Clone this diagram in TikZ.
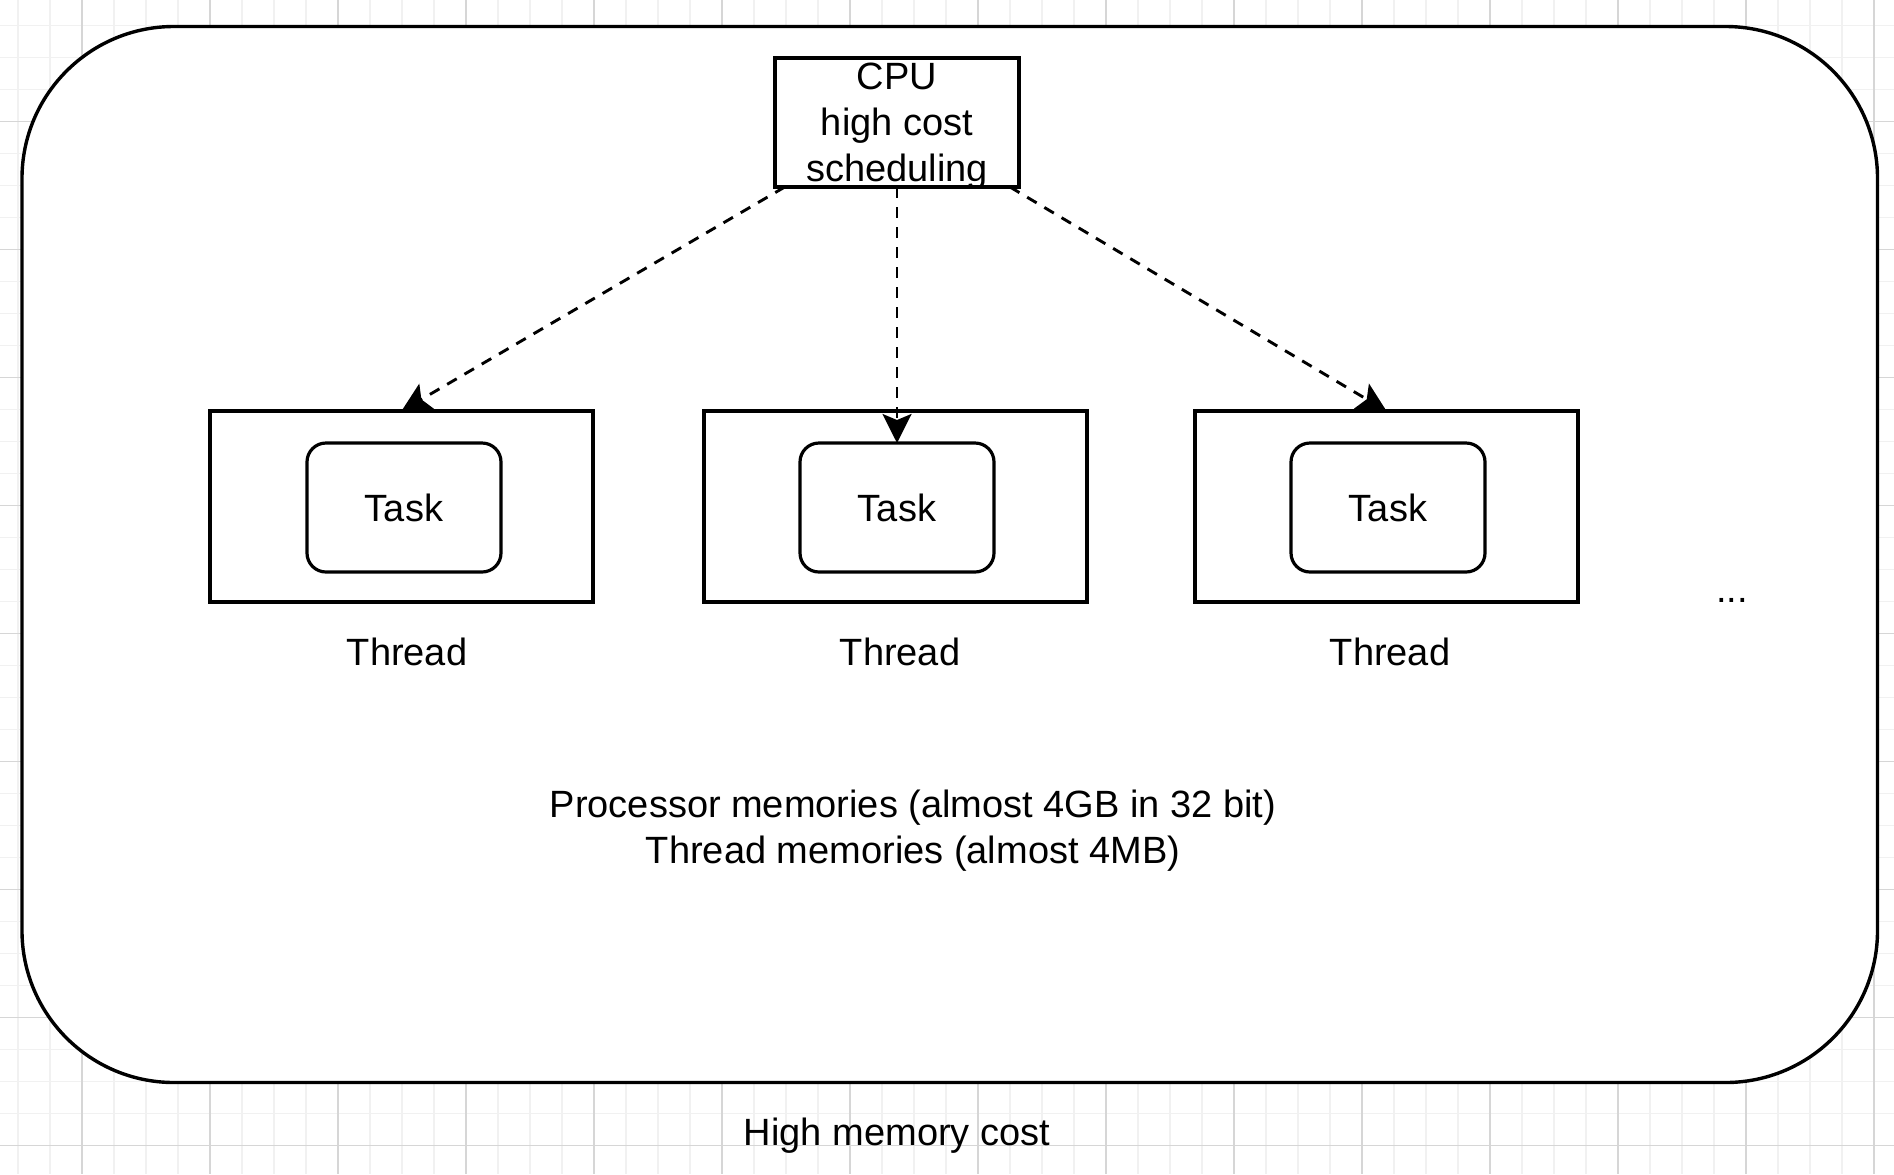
\documentclass[tikz,border=0pt]{standalone}
\usepackage{fontspec}
\setmainfont{Liberation Sans}
\usetikzlibrary{arrows.meta,calc}
\definecolor{gridminor}{HTML}{F1F1F1}
\definecolor{gridmajor}{HTML}{D6D6D6}
\tikzset{
  txt/.style={font=\fontsize{19pt}{23pt}\selectfont, inner sep=0pt, align=center},
  threadbox/.style={draw, line width=1.6pt, fill=white, inner sep=0pt, outer sep=0pt,
    minimum width=191.5pt, minimum height=95.5pt},
  taskbox/.style={draw, line width=1.6pt, fill=white, rounded corners=9.5pt, inner sep=0pt, outer sep=0pt,
    minimum width=97pt, minimum height=64.5pt, font=\fontsize{19pt}{23pt}\selectfont},
  cpubox/.style={draw, line width=1.6pt, fill=white, inner sep=0pt, outer sep=0pt,
    minimum width=122pt, minimum height=64.5pt},
  dasharrow/.style={line width=1.45pt, dash pattern=on 5.5pt off 4.5pt,
    -{Stealth[length=14.5pt, width=14.5pt, inset=3pt]}}
}
\begin{document}
\begin{tikzpicture}[x=0.5pt,y=-0.5pt]
\useasboundingbox (0,0) rectangle (1894,1174);
\fill[white] (0,0) rectangle (1894,1174);
% grid
\foreach \x in {18,50,...,1894} \draw[gridminor, line width=0.6pt] (\x,0) -- (\x,1174);
\foreach \y in {25.5,57.5,...,1174} \draw[gridminor, line width=0.6pt] (0,\y) -- (1894,\y);
\foreach \x in {82,210,...,1894} \draw[gridmajor, line width=0.6pt] (\x,0) -- (\x,1174);
\foreach \y in {121.5,249.5,...,1174} \draw[gridmajor, line width=0.6pt] (0,\y) -- (1894,\y);
% outer container
\draw[line width=1.7pt, fill=white, rounded corners=76pt] (22,26.5) rectangle (1877.5,1082.5);
% CPU
\node[cpubox] (cpu) at (897,122.5) {};
\node[txt] (cputext) at (897,126.5) {CPU\\high cost\\scheduling};
% threads
\node[threadbox] (box1) at (401.5,506.5) {};
\node[threadbox] (box2) at (895.5,506.5) {};
\node[threadbox] (box3) at (1386.5,506.5) {};
\node[taskbox] (task1) at (404,507.5) {Task};
\node[taskbox] (task2) at (897,507.5) {Task};
\node[taskbox] (task3) at (1388,507.5) {Task};
\node[txt, anchor=base] (lab1) at (407,665) {Thread};
\node[txt, anchor=base] (lab2) at (900,665) {Thread};
\node[txt, anchor=base] (lab3) at (1390,665) {Thread};
\node[txt] (dots) at (1732,600) {...};
% arrows
\draw[dasharrow] ($(cpu.south west)!0.04!(cpu.south east)$) -- (box1.north);
\draw[dasharrow] (cpu.south) -- (task2.north);
\draw[dasharrow] ($(cpu.south west)!0.963!(cpu.south east)$) -- (box3.north);
% memory text
\node[txt] (mem) at (913,831) {Processor memories (almost 4GB in 32 bit)\\Thread memories (almost 4MB)};
\node[txt, anchor=base] (cost) at (897,1145) {High memory cost};
\end{tikzpicture}
\end{document}
